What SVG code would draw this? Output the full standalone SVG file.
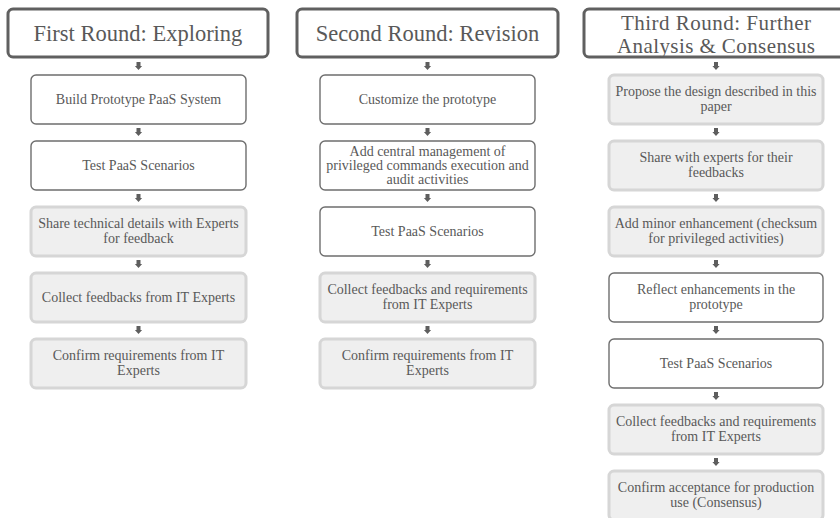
<svg xmlns="http://www.w3.org/2000/svg" width="840" height="518" viewBox="0 0 840 518">
  <defs>
    <style>
      .head rect { fill: #ffffff; stroke: #606060; stroke-width: 3; }
      .plain rect { fill: #ffffff; stroke: #6e6e6e; stroke-width: 1.4; }
      .shade rect { fill: #efefef; stroke: #d6d6d6; stroke-width: 3; }
      text { font-family: "Liberation Serif", "Times New Roman", serif; fill: #595959; text-anchor: middle; }
      .head text { font-size: 22.5px; }
      #h3 text { font-size: 21px; }
      .plain text, .shade text { font-size: 14px; }
      .arrow { fill: #5e5e5e; }
    </style>
    <path id="arr" d="M -2 0 H 2 V 4 H 3.6 L 0 8 L -3.6 4 H -2 Z"/>
  </defs>
  <rect width="840" height="518" fill="#ffffff"/>

  <!-- column 1 -->
  <g id="h1" class="head">
    <rect x="8" y="9" width="260" height="48" rx="5"/>
    <text x="138" y="41">First Round: Exploring</text>
  </g>
  <g id="a1" class="plain">
    <rect x="31" y="75" width="215" height="49" rx="5"/>
    <text x="138.5" y="104">Build Prototype PaaS System</text>
  </g>
  <g id="a2" class="plain">
    <rect x="31" y="141" width="215" height="49" rx="5"/>
    <text x="138.5" y="170">Test PaaS Scenarios</text>
  </g>
  <g id="a3" class="shade">
    <rect x="31" y="207" width="215" height="49" rx="5"/>
    <text x="138.5" y="228">Share technical details with Experts</text>
    <text x="138.5" y="243">for feedback</text>
  </g>
  <g id="a4" class="shade">
    <rect x="31" y="273" width="215" height="49" rx="5"/>
    <text x="138.5" y="302">Collect feedbacks from IT Experts</text>
  </g>
  <g id="a5" class="shade">
    <rect x="31" y="339" width="215" height="49" rx="5"/>
    <text x="138.5" y="360">Confirm requirements from IT</text>
    <text x="138.5" y="375">Experts</text>
  </g>

  <!-- column 2 -->
  <g id="h2" class="head">
    <rect x="297" y="9" width="261" height="48" rx="5"/>
    <text x="427.5" y="41">Second Round: Revision</text>
  </g>
  <g id="b1" class="plain">
    <rect x="320" y="75" width="215" height="49" rx="5"/>
    <text x="427.5" y="104">Customize the prototype</text>
  </g>
  <g id="b2" class="plain">
    <rect x="320" y="141" width="215" height="49" rx="5"/>
    <text x="427.5" y="156">Add central management of</text>
    <text x="427.5" y="170">privileged commands execution and</text>
    <text x="427.5" y="184">audit activities</text>
  </g>
  <g id="b3" class="plain">
    <rect x="320" y="207" width="215" height="49" rx="5"/>
    <text x="427.5" y="236">Test PaaS Scenarios</text>
  </g>
  <g id="b4" class="shade">
    <rect x="320" y="273" width="215" height="49" rx="5"/>
    <text x="427.5" y="294">Collect feedbacks and requirements</text>
    <text x="427.5" y="309">from IT Experts</text>
  </g>
  <g id="b5" class="shade">
    <rect x="320" y="339" width="215" height="49" rx="5"/>
    <text x="427.5" y="360">Confirm requirements from IT</text>
    <text x="427.5" y="375">Experts</text>
  </g>

  <!-- column 3 -->
  <g id="h3" class="head">
    <rect x="584" y="9" width="262" height="48" rx="5"/>
    <text x="716" y="29.5" textLength="190" lengthAdjust="spacing">Third Round: Further</text>
    <text x="716" y="53" textLength="198" lengthAdjust="spacing">Analysis &amp; Consensus</text>
  </g>
  <g id="c1" class="shade">
    <rect x="609" y="75" width="214" height="49" rx="5"/>
    <text x="716" y="96">Propose the design described in this</text>
    <text x="716" y="111">paper</text>
  </g>
  <g id="c2" class="shade">
    <rect x="609" y="141" width="214" height="49" rx="5"/>
    <text x="716" y="162">Share with experts for their</text>
    <text x="716" y="177">feedbacks</text>
  </g>
  <g id="c3" class="shade">
    <rect x="609" y="207" width="214" height="49" rx="5"/>
    <text x="716" y="228">Add minor enhancement (checksum</text>
    <text x="716" y="243">for privileged activities)</text>
  </g>
  <g id="c4" class="plain">
    <rect x="609" y="273" width="214" height="49" rx="5"/>
    <text x="716" y="294">Reflect enhancements in the</text>
    <text x="716" y="309">prototype</text>
  </g>
  <g id="c5" class="plain">
    <rect x="609" y="339" width="214" height="49" rx="5"/>
    <text x="716" y="368">Test PaaS Scenarios</text>
  </g>
  <g id="c6" class="shade">
    <rect x="609" y="405" width="214" height="49" rx="5"/>
    <text x="716" y="426">Collect feedbacks and requirements</text>
    <text x="716" y="441">from IT Experts</text>
  </g>
  <g id="c7" class="shade">
    <rect x="609" y="471" width="214" height="49" rx="5"/>
    <text x="716" y="492">Confirm acceptance for production</text>
    <text x="716" y="507">use (Consensus)</text>
  </g>

  <!-- connectors -->
  <g id="connectors" class="arrow">
    <use href="#arr" x="138.5" y="62"/>
    <use href="#arr" x="138.5" y="128"/>
    <use href="#arr" x="138.5" y="194"/>
    <use href="#arr" x="138.5" y="260"/>
    <use href="#arr" x="138.5" y="326"/>

    <use href="#arr" x="427.5" y="62"/>
    <use href="#arr" x="427.5" y="128"/>
    <use href="#arr" x="427.5" y="194"/>
    <use href="#arr" x="427.5" y="260"/>
    <use href="#arr" x="427.5" y="326"/>

    <use href="#arr" x="716" y="62"/>
    <use href="#arr" x="716" y="128"/>
    <use href="#arr" x="716" y="194"/>
    <use href="#arr" x="716" y="260"/>
    <use href="#arr" x="716" y="326"/>
    <use href="#arr" x="716" y="392"/>
    <use href="#arr" x="716" y="458"/>
  </g>
</svg>
